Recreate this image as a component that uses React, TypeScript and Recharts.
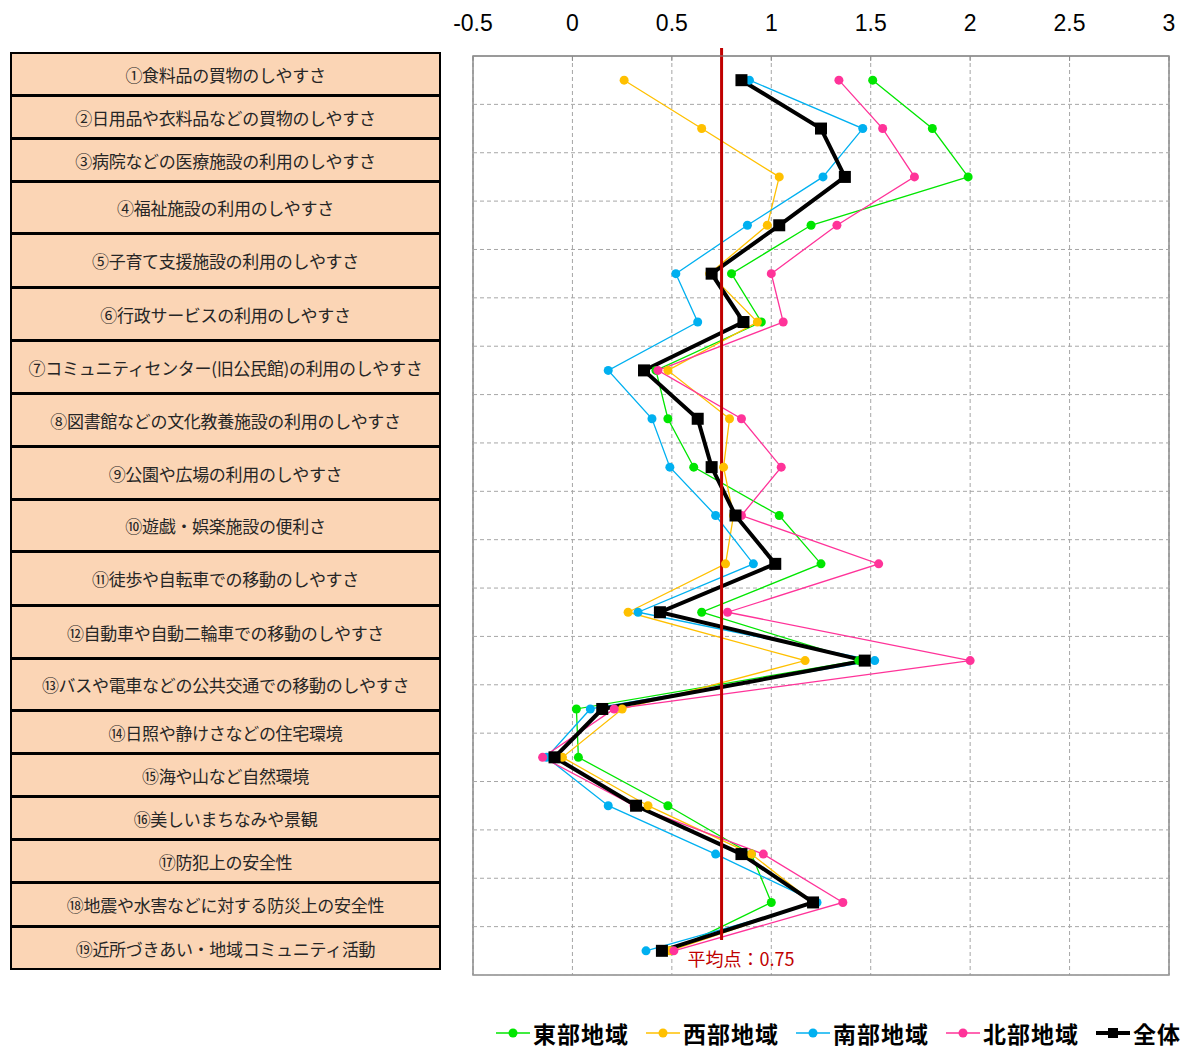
import React from 'react';
import {
    LineChart,
    Line,
    XAxis,
    YAxis,
    CartesianGrid,
    ReferenceLine,
    ReferenceArea
} from 'recharts';

const categories = [
    '①食料品の買物のしやすさ',
    '②日用品や衣料品などの買物のしやすさ',
    '③病院などの医療施設の利用のしやすさ',
    '④福祉施設の利用のしやすさ',
    '⑤子育て支援施設の利用のしやすさ',
    '⑥行政サービスの利用のしやすさ',
    '⑦コミュニティセンター(旧公民館)の利用のしやすさ',
    '⑧図書館などの文化教養施設の利用のしやすさ',
    '⑨公園や広場の利用のしやすさ',
    '⑩遊戯・娯楽施設の便利さ',
    '⑪徒歩や自転車での移動のしやすさ',
    '⑫自動車や自動二輪車での移動のしやすさ',
    '⑬バスや電車などの公共交通での移動のしやすさ',
    '⑭日照や静けさなどの住宅環境',
    '⑮海や山など自然環境',
    '⑯美しいまちなみや景観',
    '⑰防犯上の安全性',
    '⑱地震や水害などに対する防災上の安全性',
    '⑲近所づきあい・地域コミュニティ活動'
];

const east = [1.51, 1.81, 1.99, 1.2, 0.8, 0.95, 0.42, 0.48, 0.61, 1.04, 1.25, 0.65, 1.44, 0.02, 0.03, 0.48, 0.9, 1.0, 0.5];
const west = [0.26, 0.65, 1.04, 0.98, 0.69, 0.93, 0.48, 0.79, 0.76, 0.81, 0.77, 0.28, 1.17, 0.25, -0.05, 0.38, 0.9, 1.21, 0.49];
const south = [0.89, 1.46, 1.26, 0.88, 0.52, 0.63, 0.18, 0.4, 0.49, 0.72, 0.91, 0.33, 1.52, 0.09, -0.13, 0.18, 0.72, 1.23, 0.37];
const north = [1.34, 1.56, 1.72, 1.33, 1.0, 1.06, 0.43, 0.85, 1.05, 0.85, 1.54, 0.78, 2.0, 0.21, -0.15, 0.31, 0.96, 1.36, 0.51];
const total = [0.85, 1.25, 1.37, 1.04, 0.7, 0.86, 0.36, 0.63, 0.7, 0.82, 1.02, 0.44, 1.47, 0.15, -0.09, 0.32, 0.85, 1.21, 0.45];

const xTicks = [-0.5, 0, 0.5, 1, 1.5, 2, 2.5, 3];
const MEAN = 0.75;

// row borders of the label table on the left (page px)
const tableRows = [52, 96, 139, 182, 234, 288, 341, 394, 447, 500, 552, 606, 659, 711, 754, 797, 840, 883, 927, 970];

const series = [
    { key: 'east', name: '東部地域', color: '#00e600' },
    { key: 'west', name: '西部地域', color: '#ffc000' },
    { key: 'south', name: '南部地域', color: '#00b0f0' },
    { key: 'north', name: '北部地域', color: '#ff3399' }
];

const data = categories.map((name, i) => ({
    name,
    pos: i + 0.5,
    east: east[i],
    west: west[i],
    south: south[i],
    north: north[i],
    total: total[i]
}));

// band borders between categories
const yTicks = categories.map((_c, i) => i).concat(categories.length);

const FONT = '"Noto Sans CJK JP", "Noto Sans", sans-serif';

const SquareDot = (props: any) => {
    const { cx, cy } = props;
    if (cx == null || cy == null) return null;
    return <rect x={cx - 6} y={cy - 6} width={12} height={12} fill="#000" />;
};

const MeanLine = (props: any) => {
    const { x1, y1, y2 } = props;
    const top = Math.min(y1, y2);
    const bottom = Math.max(y1, y2);
    return (
        <g>
            <line x1={x1} x2={x1} y1={top - 8} y2={bottom - 35} stroke="#c00000" strokeWidth={3} />
            <text x={x1 - 34} y={bottom - 9} fill="#c00000" fontSize={18} fontFamily={FONT}>
                {`平均点：${MEAN}`}
            </text>
        </g>
    );
};

const LegendIcon = ({ color, square }: { color: string; square?: boolean }) => (
    <svg width={34} height={14} style={{ display: 'block', flexShrink: 0 }}>
        <line x1={0} x2={34} y1={7} y2={7} stroke={color} strokeWidth={square ? 4 : 1.5} />
        {square ? <rect x={12} y={2} width={10} height={10} fill={color} /> : <circle cx={17} cy={7} r={4.5} fill={color} />}
    </svg>
);

export default function App() {
    return (
        <div style={{ position: 'absolute', left: 0, top: 0, width: 1181, height: 1050, background: '#fff', fontFamily: FONT }}>
            {/* label table */}
            {categories.map((c, i) => (
                <div
                    key={c}
                    style={{
                        position: 'absolute',
                        left: 10,
                        top: tableRows[i],
                        width: 431,
                        height: tableRows[i + 1] - tableRows[i] + (i === 0 ? 0 : 1),
                        marginTop: i === 0 ? 0 : -1,
                        boxSizing: 'border-box',
                        border: '2px solid #000',
                        background: '#fbd5b5',
                        color: '#262626',
                        fontSize: 17,
                        letterSpacing: -0.3,
                        display: 'flex',
                        alignItems: 'center',
                        justifyContent: 'center',
                        whiteSpace: 'nowrap'
                    }}
                >
                    {c}
                </div>
            ))}

            <div style={{ position: 'absolute', left: 0, top: 0 }}>
                <LineChart
                    width={1181}
                    height={1050}
                    data={data}
                    layout="vertical"
                    margin={{ top: 16, right: 12, bottom: 75, left: 473 }}
                >
                    <CartesianGrid stroke="#a6a6a6" strokeDasharray="4 3" horizontal={false} />
                    {yTicks.map((t) => (
                        <ReferenceLine key={`h-${t}`} y={t} stroke="#a6a6a6" strokeDasharray="4 3" />
                    ))}
                    <ReferenceArea x1={-0.5} x2={3} y1={0} y2={19} fill="none" stroke="#8c8c8c" strokeWidth={1.5} ifOverflow="visible" />
                    <XAxis
                        type="number"
                        orientation="top"
                        domain={[-0.5, 3]}
                        ticks={xTicks}
                        height={40}
                        axisLine={{ stroke: '#8c8c8c' }}
                        tickLine={{ stroke: '#8c8c8c' }}
                        tickSize={-5}
                        tickMargin={30}
                        tick={{ fill: '#000', fontSize: 23, fontFamily: '"Liberation Sans", sans-serif' }}
                        allowDataOverflow
                    />
                    <YAxis
                        type="number"
                        dataKey="pos"
                        domain={[0, categories.length]}
                        ticks={yTicks}
                        width={0}
                        tick={false}
                        axisLine={false}
                        tickLine={false}
                    />
                    {series.map((s) => (
                        <Line
                            key={s.key}
                            dataKey={s.key}
                            name={s.name}
                            stroke={s.color}
                            strokeWidth={1.3}
                            dot={{ r: 4.5, fill: s.color, stroke: s.color, strokeWidth: 0 }}
                            isAnimationActive={false}
                        />
                    ))}
                    <Line
                        dataKey="total"
                        name="全体"
                        stroke="#000"
                        strokeWidth={4}
                        dot={<SquareDot />}
                        isAnimationActive={false}
                    />
                    <ReferenceLine x={MEAN} ifOverflow="visible" shape={<MeanLine />} />
                </LineChart>
            </div>

            {/* legend */}
            <div
                style={{
                    position: 'absolute',
                    left: 496,
                    top: 1016,
                    width: 685,
                    display: 'flex',
                    alignItems: 'center',
                    whiteSpace: 'nowrap'
                }}
            >
                {series.concat([{ key: 'total', name: '全体', color: '#000' }]).map((s, i) => (
                    <div key={s.key} style={{ display: 'flex', alignItems: 'center', flexShrink: 0, width: i < 4 ? 150 : 'auto' }}>
                        <LegendIcon color={s.color} square={s.key === 'total'} />
                        <span style={{ fontSize: 23, fontWeight: 'bold', color: '#000', marginLeft: 3, letterSpacing: 1 }}>{s.name}</span>
                    </div>
                ))}
            </div>
        </div>
    );
}
